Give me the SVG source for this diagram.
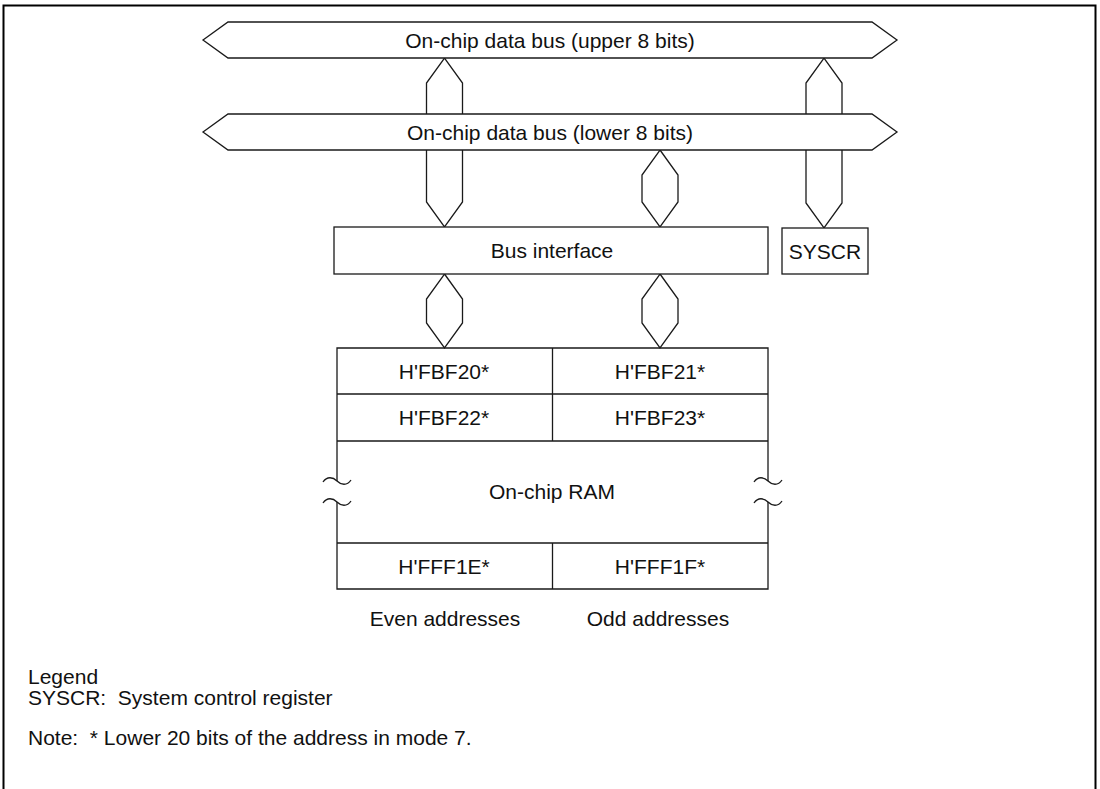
<svg xmlns="http://www.w3.org/2000/svg" width="1100" height="789" viewBox="0 0 1100 789">
<style>
.ln{fill:none;stroke:#1a1a1a;stroke-width:1.3;stroke-linejoin:miter}
.bx{fill:#fff;stroke:#1a1a1a;stroke-width:1.3}
.t{font-family:"Liberation Sans",Arial,sans-serif;font-size:21px;fill:#111}
.c{text-anchor:middle}
</style>
<rect width="1100" height="789" fill="#fff"/>
<path d="M3.5,789 V5.5 H1095.5 V789" fill="none" stroke="#000" stroke-width="2"/>
<g id="connectors">
<path class="ln" d="M426.5,114 V83 L444.5,58 L462.5,83 V114"/>
<path class="ln" d="M806,114 V83 L824,58 L842,83 V114"/>
<path class="ln" d="M426.5,150 V202 L444.5,227 L462.5,202 V150"/>
<path class="ln" d="M806,150 V203 L824,228 L842,203 V150"/>
<path class="ln" d="M660,150 L678,175 V202 L660,227 L642,202 V175 Z"/>
<path class="ln" d="M444.5,274 L462.5,299 V323 L444.5,348 L426.5,323 V299 Z"/>
<path class="ln" d="M660,274 L678,299 V323 L660,348 L642,323 V299 Z"/>
</g>
<g id="bus-upper">
<path class="bx" d="M203,40 L228,22 H872 L897,40 L872,58 H228 Z"/>
<text class="t c" x="550" y="47.5">On-chip data bus (upper 8 bits)</text>
</g>
<g id="bus-lower">
<path class="bx" d="M203,132 L228,114 H872 L897,132 L872,150 H228 Z"/>
<text class="t c" x="550" y="139.5">On-chip data bus (lower 8 bits)</text>
</g>
<g id="bus-interface">
<rect class="bx" x="334" y="227" width="434" height="47"/>
<text class="t c" x="552" y="258">Bus interface</text>
</g>
<g id="syscr">
<rect class="bx" x="782" y="228" width="86" height="46"/>
<text class="t c" x="825" y="258.5">SYSCR</text>
</g>
<g id="ram">
<path class="ln" d="M337,481 V348 H768 V481"/>
<path class="ln" d="M337,502 V589 H768 V502"/>
<path class="ln" d="M337,394 H768 M337,441 H768 M337,543 H768 M552.5,348 V441 M552.5,543 V589"/>
<path class="ln" d="M323,482 C327,476 333,477 337,481 C341,485 347,486 351,480 M323,503 C327,497 333,498 337,502 C341,506 347,507 351,501"/>
<path class="ln" d="M754,482 C758,476 764,477 768,481 C772,485 778,486 782,480 M754,503 C758,497 764,498 768,502 C772,506 778,507 782,501"/>
<text class="t c" x="444" y="378.5">H'FBF20*</text>
<text class="t c" x="660" y="378.5">H'FBF21*</text>
<text class="t c" x="444" y="425">H'FBF22*</text>
<text class="t c" x="660" y="425">H'FBF23*</text>
<text class="t c" x="552" y="499">On-chip RAM</text>
<text class="t c" x="444" y="574">H'FFF1E*</text>
<text class="t c" x="660" y="574">H'FFF1F*</text>
</g>
<g id="labels">
<text class="t c" x="445" y="625.5">Even addresses</text>
<text class="t c" x="658" y="625.5">Odd addresses</text>
<text class="t" x="28" y="684">Legend</text>
<text class="t" x="28" y="705" xml:space="preserve">SYSCR:  System control register</text>
<text class="t" x="28" y="745" xml:space="preserve">Note:  * Lower 20 bits of the address in mode 7.</text>
</g>
</svg>
